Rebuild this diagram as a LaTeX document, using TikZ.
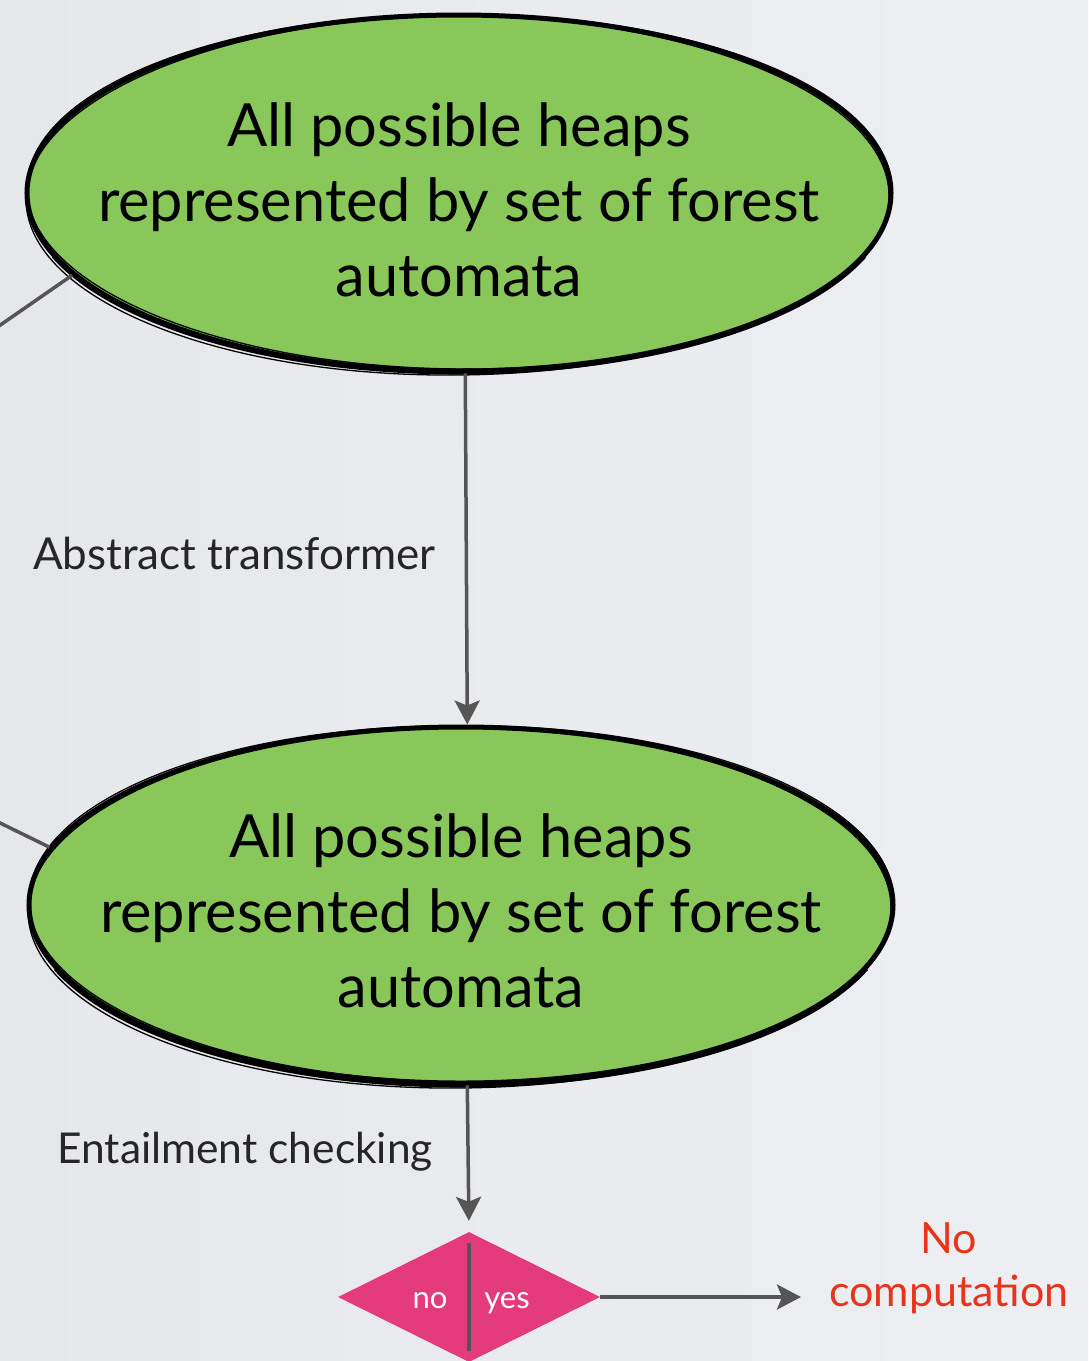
\documentclass[tikz,border=0pt]{standalone}
\usepackage{fontspec}
\setmainfont{Lato}
\usetikzlibrary{shapes.geometric,arrows.meta}

\definecolor{paperlight}{HTML}{EEEFF2}
\definecolor{paperdark}{HTML}{E6E7EB}
\definecolor{leaf}{HTML}{89C75B}
\definecolor{wire}{HTML}{555555}
\definecolor{rose}{HTML}{E33B7B}
\definecolor{alert}{HTML}{E8341C}

\tikzset{
  blob/.style={ellipse, fill=leaf, draw=black, line width=5pt,
    minimum width=864pt, minimum height=356pt, inner sep=0pt},
  sketch/.style={draw=black, line width=1.3pt},
  heavy/.style={draw=black, line width=3pt},
  blobtext/.style={align=center, font=\fontsize{59.5}{75}\selectfont, text=black},
  conn/.style={draw=wire, line width=3.5pt,
    -{Stealth[length=24pt, width=25pt, inset=5pt]}},
  plain/.style={draw=wire, line width=3.5pt},
  edgelabel/.style={font=\fontsize{44}{50}\selectfont, text=black!85, anchor=east, inner sep=0pt},
  choice/.style={diamond, fill=rose, minimum width=262pt, minimum height=130pt, inner sep=0pt},
  answer/.style={font=\fontsize{31}{36}\selectfont, text=white, inner sep=0pt, anchor=base},
  outcome/.style={align=center, font=\fontsize{43}{53}\selectfont, text=alert, inner sep=0pt}
}

\begin{document}
\begin{tikzpicture}[x=1pt, y=-1pt]
  \useasboundingbox (0,0) rectangle (1088,1361);
  \shade[left color=paperdark, right color=paperlight] (0,0) rectangle (1088,1361);

  % two heap-set ellipses with a hand-drawn outline, heavier along the bottom
  \node[blob] (e1) at (459,193) {};
  \draw[sketch, rotate around={0.7:(459,193)}] (459,195) ellipse [x radius=433pt, y radius=180pt];
  \draw[sketch, rotate around={-0.6:(459,193)}] (458,192) ellipse [x radius=431pt, y radius=177pt];
  \draw[heavy] (459+432*cos 200,196-177*sin 200) arc [start angle=200, end angle=340, x radius=432pt, y radius=177pt];
  \node[blobtext] (t1) at (459,200) {All possible heaps\\represented by set of forest\\automata};

  \node[blob] (e2) at (461,905) {};
  \draw[sketch, rotate around={0.7:(461,905)}] (461,907) ellipse [x radius=433pt, y radius=181pt];
  \draw[sketch, rotate around={-0.6:(461,905)}] (460,904) ellipse [x radius=431pt, y radius=178pt];
  \draw[heavy] (461+432*cos 200,908-178*sin 200) arc [start angle=200, end angle=340, x radius=432pt, y radius=178pt];
  \node[blobtext] (t2) at (461,911) {All possible heaps\\represented by set of forest\\automata};

  % loose ends leaving the picture on the left
  \coordinate (in1) at (-4,328);
  \coordinate (in2) at (-4,821);
  \draw[plain] (in1) -- (e1.192);
  \draw[plain] (in2) -- (e2.172);

  % transformer step
  \draw[conn] (e1.-88) -- (e2.88);
  \node[edgelabel] (l1) at (436,553) {Abstract transformer};

  % entailment decision
  \node[choice] (d) at (469,1297) {};
  \draw[conn, shorten >=11pt] (e2.-88) -- (d.north);
  \node[edgelabel, font=\fontsize{42.5}{50}\selectfont] (l2) at (433,1152) {Entailment checking};
  \draw[draw=wire, line width=4.5pt] ([yshift=-11pt]d.north) -- ([yshift=11pt]d.south);
  \node[answer] (no) at (430,1308) {no};
  \node[answer] (yes) at (507,1308) {yes};

  \coordinate (out) at (801,1297);
  \draw[conn] (d.east) -- (out);
  \node[outcome, anchor=west] (nc) at (829,1268) {No\\computation};
\end{tikzpicture}
\end{document}
